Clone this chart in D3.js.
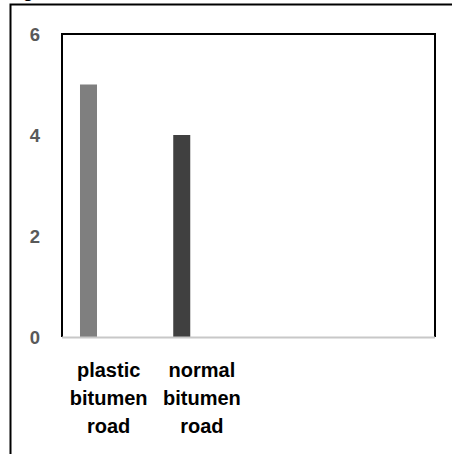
<!DOCTYPE html>
<html>
<head>
<meta charset="utf-8">
<script src="https://cdn.jsdelivr.net/npm/d3@7"></script>
<style>
  html, body { margin: 0; padding: 0; background: #fff; }
  svg text { font-family: "Liberation Sans", Arial, sans-serif; font-weight: bold; }
</style>
</head>
<body>
<svg id="chart" width="452" height="454"></svg>
<script>
// data
var categories = ["plastic bitumen road", "normal bitumen road", "", " "],
    catLines = [["plastic", "bitumen", "road"], ["normal", "bitumen", "road"], [], []],
    slots = ["s1", "s2", "s3"],
    values = [5, 4],
    barColors = ["#7f7f7f", "#404040"],
    yTicks = [0, 2, 4, 6];

(function () {
    var svg = d3.select("#chart"),
        plotLeft = 62,
        plotRight = 435,
        plotTop = 34,
        plotBottom = 337;

    var x = d3.scaleBand().domain(categories).range([plotLeft, plotRight]),
        inner = d3.scaleBand().domain(slots).range([0, x.bandwidth()])
            .paddingInner(0.155).paddingOuter(0.894),
        y = d3.scaleLinear().domain([0, 6]).range([plotBottom, plotTop]);

    // outer frame (page border cut by the crop)
    svg.append("path")
        .attr("d", "M10.5,454 V4.5 H452")
        .attr("fill", "none")
        .attr("stroke", "#000")
        .attr("stroke-width", 2);

    // clipped letter above the frame
    svg.append("text")
        .attr("x", 23)
        .attr("y", -2)
        .attr("font-size", 17)
        .attr("font-weight", "normal")
        .text("g");

    // bars
    svg.selectAll("rect.bar")
        .data(values)
        .enter().append("rect")
        .attr("class", "bar")
        .attr("x", function (d, i) { return x(categories[i]) + inner(slots[0]); })
        .attr("width", inner.bandwidth())
        .attr("y", function (d) { return y(d); })
        .attr("height", function (d) { return y(0) - y(d); })
        .attr("fill", function (d, i) { return barColors[i]; });

    // plot area border: left, top, right black; bottom is the gray axis
    svg.append("path")
        .attr("d", "M" + plotLeft + "," + plotBottom + " V" + plotTop + " H" + plotRight + " V" + plotBottom)
        .attr("fill", "none")
        .attr("stroke", "#000")
        .attr("stroke-width", 2);

    svg.append("line")
        .attr("x1", plotLeft).attr("x2", plotRight)
        .attr("y1", plotBottom + 0.5).attr("y2", plotBottom + 0.5)
        .attr("stroke", "#c8c8c8")
        .attr("stroke-width", 2);

    // y tick labels
    svg.selectAll("text.ytick")
        .data(yTicks)
        .enter().append("text")
        .attr("class", "ytick")
        .attr("x", 40)
        .attr("y", function (d) { return y(d) + 6.5; })
        .attr("text-anchor", "end")
        .attr("font-size", 18.5)
        .attr("fill", "#595959")
        .text(function (d) { return d; });

    // category labels
    var cat = svg.selectAll("g.cat")
        .data(categories)
        .enter().append("g")
        .attr("class", "cat")
        .attr("transform", function (d) { return "translate(" + (x(d) + x.bandwidth() / 2) + ",0)"; });

    cat.selectAll("text")
        .data(function (d, i) { return catLines[i]; })
        .enter().append("text")
        .attr("text-anchor", "middle")
        .attr("y", function (d, i) { return 377 + i * 28; })
        .attr("font-size", 20)
        .attr("fill", "#000")
        .text(function (d) { return d; });
}());
</script>
</body>
</html>
